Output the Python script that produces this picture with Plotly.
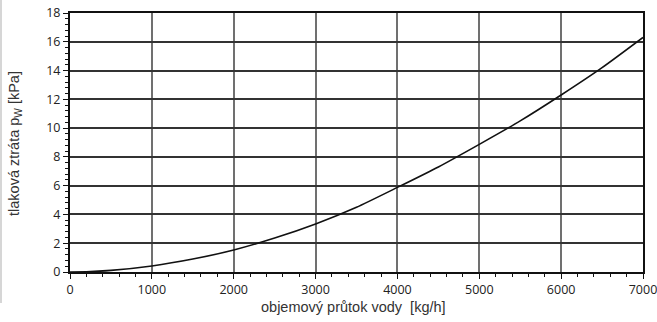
import plotly.graph_objects as go

flow = [0, 200, 500, 1000, 1500, 2000, 2500, 3000, 3500, 4000, 4500, 5000, 5500, 6000, 6500, 7000]
dp = [0, 0.01, 0.11, 0.42, 0.90, 1.53, 2.36, 3.34, 4.50, 5.88, 7.30, 8.87, 10.50, 12.30, 14.20, 16.30]

x_ticks = [0, 1000, 2000, 3000, 4000, 5000, 6000, 7000]
y_ticks = [0, 2, 4, 6, 8, 10, 12, 14, 16, 18]

x_title = "objemový průtok vody  [kg/h]"
y_title = "tlaková ztráta p<sub>W</sub> [kPa]"

W, H = 657, 322
L, R, T, B = 70, 14, 13, 50
pw, ph = W - L - R, H - T - B

fig = go.Figure()
fig.add_trace(go.Scatter(x=flow, y=dp, mode="lines", line=dict(color="#111", width=1.6, shape="spline", smoothing=0.6),
                         hoverinfo="skip", showlegend=False, cliponaxis=True))

font = "Open Sans"
title_font = "Liberation Sans"
fig.update_layout(
    width=W, height=H,
    margin=dict(l=L, r=R, t=T, b=B, autoexpand=False),
    paper_bgcolor="white", plot_bgcolor="white",
    font=dict(family=font, size=12.5, color="#222"),
    showlegend=False,
    xaxis=dict(range=[0, 7000], tickvals=x_ticks, ticktext=[str(v) for v in x_ticks],
               showgrid=True, gridcolor="#707070", gridwidth=2,
               showline=True, linecolor="#111", linewidth=2, mirror=True,
               ticks="outside", ticklen=5, tickcolor="#111", tickwidth=1,
               minor=dict(dtick=200, ticks="outside", ticklen=3, tickcolor="#111", showgrid=False),
               zeroline=False, fixedrange=True, automargin=False, ticklabeloverflow="allow"),
    yaxis=dict(range=[0, 18], tickvals=y_ticks, ticktext=[str(v) for v in y_ticks],
               showgrid=True, gridcolor="#333", gridwidth=1.5,
               showline=True, linecolor="#111", linewidth=2, mirror=True,
               ticks="outside", ticklen=5, tickcolor="#111", tickwidth=1,
               minor=dict(dtick=0.4, ticks="outside", ticklen=3, tickcolor="#111", showgrid=False),
               zeroline=False, fixedrange=True, automargin=False, ticklabeloverflow="allow"),
    annotations=[
        dict(text=x_title, xref="paper", yref="paper", x=(353 - L) / pw, y=(272 - 307) / ph,
             xanchor="center", yanchor="middle", showarrow=False,
             font=dict(family=title_font, size=14.5, color="#333")),
        dict(text=y_title, xref="paper", yref="paper", x=(15 - L) / pw, y=(272 - 144) / ph,
             xanchor="center", yanchor="middle", showarrow=False, textangle=-90,
             font=dict(family=title_font, size=14.5, color="#333")),
    ],
    shapes=[
        dict(type="line", xref="paper", yref="paper", x0=(1 - L) / pw, x1=(1 - L) / pw,
             y0=(272 - 0) / ph, y1=(272 - 303) / ph, line=dict(color="#c8c8c8", width=1.5)),
    ],
)

fig.write_html("out.html", config={"displayModeBar": False},
               post_script="document.body.style.margin='0px';document.body.style.overflow='hidden';")
